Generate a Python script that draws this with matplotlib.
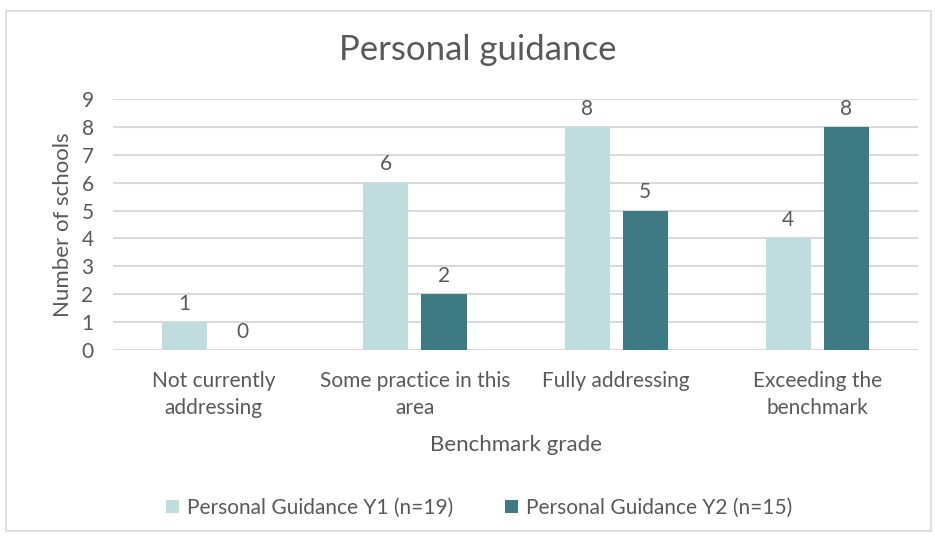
import numpy as np
import matplotlib.pyplot as plt
from matplotlib.patches import Rectangle

categories = ['Not currently\naddressing', 'Some practice in this\narea',
              'Fully addressing', 'Exceeding the\nbenchmark']
y1 = [1, 6, 8, 4]
y2 = [0, 2, 5, 8]
series_names = ['Personal Guidance Y1 (n=19)', 'Personal Guidance Y2 (n=15)']

plt.rcParams['font.family'] = ['Lato', 'DejaVu Sans']
txt = '#595959'
c1 = '#BFDCDF'
c2 = '#3E7A84'

fig = plt.figure(figsize=(9.35, 5.37), dpi=100)
ax = fig.add_axes([0.1209, 0.3482, 0.8609, 0.4674])

# chart border
fig.patches.append(Rectangle((0.006, 0.012), 0.99, 0.968, transform=fig.transFigure,
                             fill=False, edgecolor='#D9D9D9', linewidth=1.2))

x = np.arange(len(categories))
w = 0.224
gap = 0.065
b1 = ax.bar(x - (w + gap) / 2, y1, w, color=c1, label=series_names[0], zorder=3)
b2 = ax.bar(x + (w + gap) / 2, y2, w, color=c2, label=series_names[1], zorder=3)

for bars, vals in [(b1, y1), (b2, y2)]:
    for r, v in zip(bars, vals):
        ax.annotate(str(v), (r.get_x() + r.get_width() / 2, v), xytext=(0, 6),
                    textcoords='offset points', ha='center', va='bottom',
                    fontsize=15, color=txt)

ax.set_xlim(-0.5, 3.5)
ax.set_ylim(0, 9)
ax.set_yticks(range(10))
ax.set_xticks(x)
ax.set_xticklabels(categories, linespacing=1.45)
ax.yaxis.grid(True, color='#D9D9D9', linewidth=1.5, zorder=0)
for s in ax.spines.values():
    s.set_visible(False)
ax.tick_params(length=0, labelsize=15, labelcolor=txt)
ax.tick_params(axis='x', pad=15)
ax.tick_params(axis='y', pad=14)

ax.set_ylabel('Number of schools', fontsize=16, color=txt, labelpad=6)
ax.set_xlabel('Benchmark grade', fontsize=16, color=txt, labelpad=12)
fig.text(0.511, 0.907, 'Personal guidance', ha='center', va='center',
         fontsize=25, color=txt)

ax.legend(loc='center', bbox_to_anchor=(0.455, -0.63), ncol=2, frameon=False,
          fontsize=15, labelcolor=txt, handlelength=0.6, handleheight=0.6,
          columnspacing=2.5, handletextpad=0.4)

fig.savefig('out.png', dpi=100)
